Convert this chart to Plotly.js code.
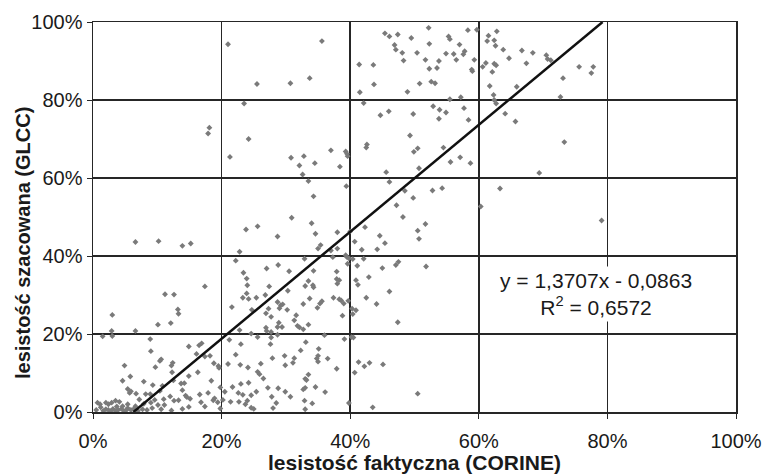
<!DOCTYPE html>
<html>
<head>
<meta charset="utf-8">
<script src="https://cdn.plot.ly/plotly-3.0.1.min.js"></script>
<style>html,body{margin:0;padding:0;background:#fff}#chart{width:772px;height:475px}</style>
</head>
<body>
<div id="chart"></div>
<script>
// actual forest cover (CORINE), %
const corine = [
21.0,23.5,18.1,17.9,24.2,21.3,25.5,
35.6,30.7,33.7,45.4,46.1,47.4,49.5,46.9,47.1,48.1,50.4,48.3,41.4,43.6,43.7,41.5,48.9,50.8,42.1,44.7,46.0,49.8,49.3,42.6,42.5,50.5,49.9,37.0,30.8,32.8,32.1,34.5,38.4,39.3,39.5,39.6,32.6,33.5,34.3,39.4,45.6,46.1,48.5,49.8,47.2,50.7,
52.2,58.3,59.7,55.3,55.5,52.3,57.0,54.9,56.1,57.8,57.6,51.7,53.8,56.5,59.3,52.3,53.5,58.9,59.0,52.6,53.2,55.5,57.2,52.9,53.9,54.9,57.7,53.8,58.4,61.5,62.8,61.3,62.4,62.6,63.8,66.7,68.4,70.5,70.7,71.2,75.6,64.7,61.1,60.6,62.4,62.7,62.1,67.4,73.1,61.7,65.9,62.3,62.4,62.7,72.7,64.1,65.7,73.3,54.5,55.6,57.1,58.7,69.4,52.8,54.3,63.3,60.3,
77.8,77.5,51.7,50.5,50.7,51.8,50.5,79.1,
30.9,34.0,25.6,28.7,34.6,38.0,40.0,42.3,48.2,44.6,45.4,40.7,35.4,35.0,38.0,37.0,41.8,44.2,32.9,37.3,39.3,39.5,39.8,40.4,42.1,28.8,27.0,30.5,34.3,39.6,41.1,45.0,47.1,47.5,37.9,42.9,37.9,38.3,38.0,33.5,40.9,41.2,33.0,34.2,34.3,27.4,30.3,46.1,26.8,25.4,33.7,37.4,38.3,38.6,39.7,42.5,35.6,35.3,28.7,39.0,44.1,32.7,29.2,29.5,29.0,34.9,27.3,30.2,40.3,40.9,40.4,24.7,26.9,38.8,27.7,31.6,31.3,47.4,28.9,33.5,31.8,32.1,32.7,28.7,29.4,26.9,27.0,27.7,24.6,25.6,27.7,28.7,36.0,39.1,40.2,40.5,33.1,27.6,35.1,32.3,29.8,31.3,27.9,35.0,34.8,35.0,36.5,31.1,41.3,42.2,43.0,45.1,40.7,26.1,29.9,37.9,25.6,25.9,26.5,33.5,33.0,33.2,34.6,32.7,33.0,27.2,28.8,29.9,30.7,36.1,25.4,24.6,27.8,28.5,32.9,34.1,25.0,28.0,33.0,39.8,43.5,
6.6,10.2,13.9,15.2,23.8,22.8,22.2,23.4,23.9,24.0,23.3,24.2,23.9,17.4,11.2,12.6,13.2,13.3,3.0,21.6,10.1,12.1,2.9,3.0,1.5,6.6,22.8,21.2,8.9,23.0,9.0,14.9,16.5,16.9,16.1,17.4,18.2,10.6,10.4,4.9,12.4,12.2,9.7,22.2,18.8,19.5,19.6,21.0,22.9,24.1,12.3,16.3,14.9,5.8,4.6,7.9,9.3,5.4,5.7,5.9,6.7,8.2,8.9,10.4,12.5,13.7,14.2,10.8,18.4,19.8,21.7,23.0,20.5,23.3,22.6,24.2,16.6,17.9,13.9,14.4,14.6,12.0,12.6,13.3,15.1,11.0,9.6,9.0,7.2,7.9,10.1,11.1,13.9,14.9,16.8,17.4,18.7,18.9,19.4,20.2,21.4,22.7,23.7,24.0,24.6,19.8,10.6,
0.7,1.1,2.0,2.4,2.9,3.5,4.1,1.6,2.0,2.4,2.8,3.1,3.5,3.9,4.4,4.8,5.2,5.4,5.9,6.3,7.0,7.7,3.7,4.6,5.4,0.5,1.2,6.6,8.4,9.2,12.2
];
// estimated forest cover (GLCC), %
const glcc = [
94.3,79.1,72.9,71.4,70.0,65.4,84.1,
95.1,84.3,85.6,97.1,96.3,96.8,95.9,94.1,92.9,92.1,92.1,90.1,89.1,89.0,84.0,82.0,82.1,84.2,79.2,76.1,77.1,76.4,70.9,68.6,67.8,67.6,66.7,67.1,65.2,65.6,63.2,63.8,62.9,66.8,66.2,65.6,60.9,59.2,55.3,57.9,61.5,59.0,56.7,54.9,53.0,62.5,
98.5,97.9,98.0,96.3,95.6,94.4,94.2,91.9,91.8,92.5,91.7,90.3,90.0,90.3,90.3,88.0,88.2,87.8,87.4,84.7,84.3,80.2,80.7,78.4,77.5,76.8,77.9,75.2,74.9,96.5,97.6,95.1,95.3,93.9,92.9,92.7,92.1,91.5,90.5,90.2,88.5,90.7,89.5,88.5,89.3,88.9,87.2,89.4,85.6,83.6,83.4,81.3,80.0,79.1,80.8,76.5,74.5,69.2,67.8,64.1,65.3,63.8,61.3,56.8,57.4,57.3,52.7,
88.5,86.9,48.2,46.5,44.4,37.3,4.7,49.1,
49.8,48.4,47.6,45.0,45.7,46.1,46.3,47.4,50.0,45.2,43.3,43.7,42.8,41.9,41.9,41.4,41.6,41.7,39.3,39.7,40.2,39.7,39.4,39.2,39.3,37.7,36.8,36.1,36.2,38.0,37.5,36.9,37.7,38.5,36.0,34.6,34.1,33.8,32.9,33.6,33.8,32.6,32.3,32.5,32.0,32.2,31.1,30.9,30.0,29.3,29.1,29.3,28.9,28.6,28.5,29.3,28.4,27.8,28.2,27.8,27.7,27.7,27.4,27.6,26.6,26.7,26.5,26.2,26.5,26.1,25.1,26.2,25.3,24.7,24.4,24.8,23.5,23.0,22.9,22.4,22.1,21.7,21.2,21.8,21.8,21.6,20.8,20.5,20.1,19.2,19.1,19.8,19.7,18.7,19.2,19.1,17.9,17.4,16.2,15.8,14.4,13.8,13.8,14.4,13.7,12.9,13.7,12.6,12.8,11.7,12.6,12.2,10.1,12.4,12.0,11.1,10.3,9.7,8.6,9.6,8.5,8.2,6.4,5.8,6.2,6.2,6.1,5.2,3.9,5.1,5.2,4.3,3.9,2.3,2.9,2.2,0.8,1.0,0.7,2.3,1.2,
43.6,43.8,42.6,43.2,46.8,41.1,38.8,35.7,34.2,32.5,29.3,29.0,30.4,32.2,30.2,30.1,26.3,25.2,24.9,26.9,22.4,22.8,20.8,19.5,19.4,20.8,21.0,18.5,18.7,17.4,15.6,16.8,17.1,17.6,14.9,14.2,14.4,13.5,13.1,11.9,12.6,11.9,11.5,14.7,12.5,11.8,11.3,12.3,12.1,11.4,10.2,10.2,9.2,9.1,8.0,7.8,6.9,5.9,4.9,5.3,4.7,4.6,4.6,5.4,8.1,7.3,7.4,6.7,8.0,6.3,6.4,7.2,5.2,4.4,4.9,7.5,4.5,4.9,5.6,4.2,3.8,4.0,2.9,3.0,3.4,3.3,3.1,2.4,3.2,2.1,1.8,1.8,0.8,1.3,2.5,1.4,3.0,3.5,2.5,3.1,2.6,2.6,2.0,2.9,1.1,0.9,0.7,
2.4,2.0,2.4,2.0,2.4,2.9,2.6,0.3,0.7,0.5,0.3,0.8,0.3,0.5,0.8,0.3,0.5,1.0,0.5,0.7,0.3,0.7,1.4,1.5,2.0,0.5,1.2,1.5,0.5,1.0,0.4
];
// linear trend (fractions): y = slope*x + intercept
const slope = 1.3707;
const intercept = -0.0863;
const r2Text = "0,6572";
const tickVals = [0, 20, 40, 60, 80, 100];
const tickText = ["0%", "20%", "40%", "60%", "80%", "100%"];
const xTitle = "lesistość faktyczna (CORINE)";
const yTitle = "lesistość szacowana (GLCC)";

const xStart = (0 - intercept) / slope * 100;
const xEnd = (1 - intercept) / slope * 100;

const font = "'Liberation Sans', Arial, sans-serif";
const gridC = "#262626";

const traces = [
  {x: corine, y: glcc, type: "scatter", mode: "markers",
   marker: {symbol: "diamond", size: 4.5, color: "#7a7a7a"}, cliponaxis: false, hoverinfo: "x+y"},
  {x: [xStart, xEnd], y: [0, 100], type: "scatter", mode: "lines",
   line: {color: "#111", width: 2.5}, hoverinfo: "skip"}
];

const layout = {
  width: 772, height: 475,
  margin: {l: 93, r: 36, t: 22, b: 63},
  paper_bgcolor: "#fff", plot_bgcolor: "#fff",
  showlegend: false,
  font: {family: font, color: "#1a1a1a", size: 20},
  xaxis: {
    range: [0, 100], tickvals: tickVals, ticktext: tickText,
    showgrid: true, gridcolor: gridC, gridwidth: 1.5,
    showline: true, linecolor: gridC, linewidth: 1.5, mirror: true,
    ticks: "outside", ticklen: 5, tickcolor: gridC, zeroline: false,
    tickfont: {size: 20}, ticklabelstandoff: 5,
    title: {text: xTitle, font: {size: 21, family: font, weight: "bold"}, standoff: 3}
  },
  yaxis: {
    range: [0, 100], tickvals: tickVals, ticktext: tickText,
    showgrid: true, gridcolor: gridC, gridwidth: 1.5,
    showline: true, linecolor: gridC, linewidth: 1.5, mirror: true,
    ticks: "outside", ticklen: 5, tickcolor: gridC, zeroline: false,
    tickfont: {size: 20}
  },
  annotations: [{
    x: 78.2, y: 30.2, xref: "x", yref: "y",
    text: "y = 1,3707x - 0,0863<br>R<sup>2</sup> = " + r2Text,
    showarrow: false, align: "center", bgcolor: "#fff", borderpad: 2,
    font: {size: 21, family: font, color: "#1a1a1a"}
  }, {
    x: -70 / 643, y: (412 - 243) / 390, xref: "paper", yref: "paper",
    xanchor: "center", yanchor: "middle", textangle: -90,
    text: "<b>" + yTitle + "</b>", showarrow: false,
    font: {size: 20, family: font, color: "#1a1a1a"}
  }]
};

Plotly.newPlot("chart", traces, layout, {displayModeBar: false, staticPlot: true});
</script>
</body>
</html>
